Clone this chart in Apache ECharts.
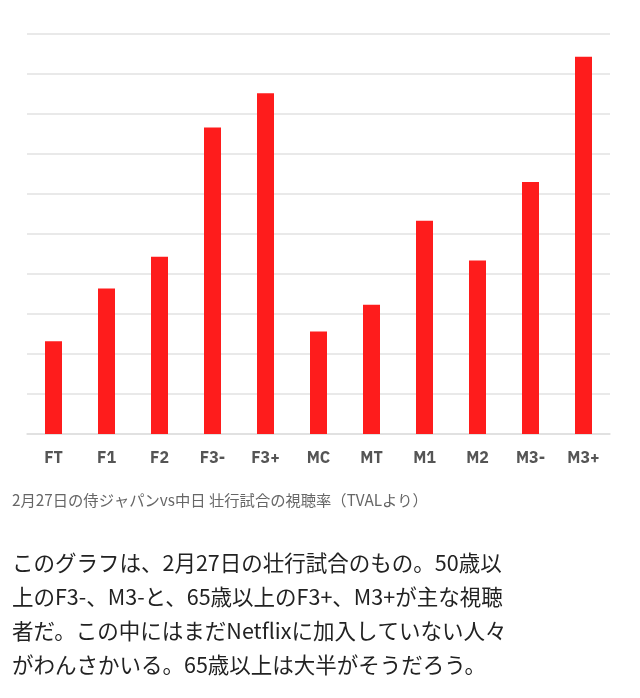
<!DOCTYPE html>
<html><head><meta charset="utf-8">
<script src="https://cdn.jsdelivr.net/npm/echarts@6/dist/echarts.min.js"></script>
<style>html,body{margin:0;padding:0;background:#fff}#c{width:640px;height:698px}</style>
</head><body><div id="c"></div>
<script>
const categories = ['FT','F1','F2','F3-','F3+','MC','MT','M1','M2','M3-','M3+'];
const ratings = [2.32, 3.64, 4.43, 7.66, 8.52, 2.56, 3.23, 5.33, 4.34, 6.30, 9.43];
const caption = '2月27日の侍ジャパンvs中日 壮行試合の視聴率（TVALより）';
const bodyLines = [
  'このグラフは、2月27日の壮行試合のもの。50歳以',
  '上のF3-、M3-と、65歳以上のF3+、M3+が主な視聴',
  '者だ。この中にはまだNetflixに加入していない人々',
  'がわんさかいる。65歳以上は大半がそうだろう。'
];
const chart = echarts.init(document.getElementById('c'));
const fontCJK = '"Noto Sans CJK JP", Roboto, sans-serif';
const graphics = [{
  type: 'text', left: 12, top: 493,
  style: { text: caption, fill: '#666', font: '15.3px ' + fontCJK }
}];
bodyLines.forEach((t, i) => {
  graphics.push({ type: 'text', left: 12, top: 552 + i * 34,
    style: { text: t, fill: '#222', font: '21.5px ' + fontCJK } });
});
chart.setOption({
  animation: false,
  grid: { left: 27, right: 30, top: 34, bottom: 264 },
  xAxis: {
    type: 'category', data: categories,
    axisTick: { show: false },
    axisLine: { lineStyle: { color: '#dedede', width: 1.5 } },
    axisLabel: { color: '#555', fontWeight: 'bold', fontSize: 16, margin: 16,
      fontFamily: '"IBM Plex Sans", Roboto, "Noto Sans", sans-serif' }
  },
  yAxis: {
    type: 'value', min: 0, max: 10, interval: 1,
    axisLabel: { show: false }, axisLine: { show: false }, axisTick: { show: false },
    splitLine: { lineStyle: { color: '#e2e2e2', width: 1.5 } }
  },
  series: [{
    type: 'bar', data: ratings, barWidth: 17,
    itemStyle: { color: '#fe1c1c' }
  }],
  graphic: graphics
});
</script></body></html>
